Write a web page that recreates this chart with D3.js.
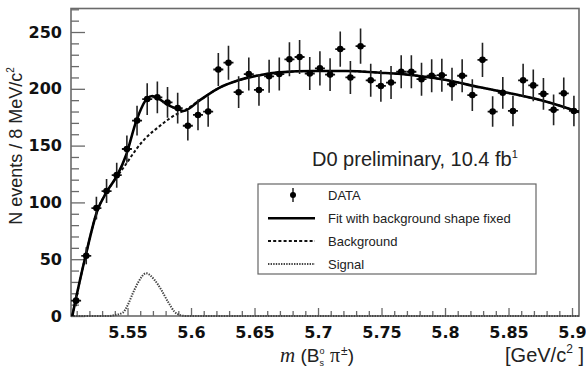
<!DOCTYPE html>
<html><head><meta charset="utf-8">
<script src="https://cdn.jsdelivr.net/npm/d3@7"></script>
<style>
html,body{margin:0;padding:0;background:#fff;}
svg{display:block;}
</style></head>
<body>
<svg id="chart" width="586" height="367"></svg>
<script>
// ---- data ----
const binCenters = [5.5095,5.5175,5.5255,5.5335,5.5415,5.5495,5.5575,5.5655,5.5735,5.5815,
  5.5895,5.5975,5.6055,5.6135,5.6215,5.6295,5.6375,5.6455,5.6535,5.6615,
  5.6695,5.6775,5.6855,5.6935,5.7015,5.7095,5.7175,5.7255,5.7335,5.7415,
  5.7495,5.7575,5.7655,5.7735,5.7815,5.7895,5.7975,5.8055,5.8135,5.8215,
  5.8295,5.8375,5.8455,5.8535,5.8615,5.8695,5.8775,5.8855,5.8935,5.9015];
const counts = [13.5,53,95,110,124,147,172,191,192.5,188,
  183,167.5,177,180,217,223,197,213,199,211,
  213,226,228,213.5,218,212.5,235,210,237.5,207.5,
  202.5,205.5,215,215,208.5,211.5,212,204,211.5,194.5,
  225.5,180,196.5,180.5,207.5,203,195.5,181.5,196,180.5];
const errors = [5,7.5,10,10.5,11,12,13,14,14,13.5,
  13.5,13,13.5,13.5,14.5,15,14,14.5,14,14.5,
  14.5,15,15,14.5,15,14.5,15.5,14.5,15.5,14.5,
  14,14.5,14.5,14.5,14.5,14.5,14.5,14.5,14.5,14,
  15,13.5,14,13.5,14.5,14,14,13.5,14,13.5];

const fitMass = [5.5065,5.508,5.517,5.526,5.534,5.542,5.549,5.557,5.5655,5.5695,5.574,5.582,5.590,5.594,5.607,5.6225,5.638,5.654,5.670,5.696,5.722,5.749,5.775,5.801,5.8275,5.854,5.880,5.9055];
const fitValues = [0,8,53,92,110,124,142,172,191.6,193.7,191.6,185.7,182,180.5,190,201,207.7,212,214.5,215.7,215.7,214.2,212,207.7,201.3,195.4,188.6,179.5];

const bgMass = [5.5065,5.508,5.517,5.526,5.534,5.542,5.549,5.557,5.5655,5.574,5.582,5.590,5.594,5.607,5.6225,5.638,5.654,5.670,5.696,5.722,5.749,5.775,5.801,5.8275,5.854,5.880,5.9055];
const bgValues = [0,8,53,92,110,123,134,147,158,166,173,178.5,180.5,190,201,207.7,212,214.5,215.7,215.7,214.2,212,207.7,201.3,195.4,188.6,179.5];

const sigMass = [5.5055,5.535,5.5384,5.5463,5.5502,5.5542,5.5581,5.5647,5.5713,5.5766,5.5818,5.5870,5.5923,5.596,5.9055];
const sigValues = [0,0,0.5,3,9.7,20,29,37.6,31.7,23,12.6,3.8,0.5,0,0];

const xTicks = [5.55,5.6,5.65,5.7,5.75,5.8,5.85,5.9];
const xTickLabels = ["5.55","5.6","5.65","5.7","5.75","5.8","5.85","5.9"];
const xMinorTicks = [5.51,5.52,5.53,5.54,5.56,5.57,5.58,5.59,5.61,5.62,5.63,5.64,5.66,5.67,5.68,5.69,5.71,5.72,5.73,5.74,5.76,5.77,5.78,5.79,5.81,5.82,5.83,5.84,5.86,5.87,5.88,5.89];
const yTicks = [0,50,100,150,200,250];
const yMinorTicks = [10,20,30,40,60,70,80,90,110,120,130,140,160,170,180,190,210,220,230,240,260,270];
const legendLabels = ["DATA","Fit with background shape fixed","Background","Signal"];

// ---- layout ----
const svg = d3.select("#chart");
const P = {left:71, top:8.5, right:579, bottom:316};
const x = d3.scaleLinear().domain([5.5055,5.9055]).range([P.left,P.right]);
const y = d3.scaleLinear().domain([0,270.7]).range([P.bottom,P.top]);

svg.append("rect").attr("width",586).attr("height",367).attr("fill","#fff");

svg.append("defs").append("clipPath").attr("id","clip")
  .append("rect").attr("x",P.left).attr("y",P.top-1)
  .attr("width",P.right-P.left).attr("height",P.bottom-P.top+2);

// axes
const axisColor = "#6a6a6a";
const yMinor = svg.append("g").attr("transform",`translate(${P.left},0)`)
  .call(d3.axisLeft(y).tickValues(yMinorTicks).tickSize(-8).tickFormat(""));
const yMajor = svg.append("g").attr("transform",`translate(${P.left},0)`)
  .call(d3.axisLeft(y).tickValues(yTicks).tickSize(-14).tickPadding(9).tickFormat(d3.format("d")));
const xMinor = svg.append("g").attr("transform",`translate(0,${P.bottom})`)
  .call(d3.axisBottom(x).tickValues(xMinorTicks).tickSize(-5).tickFormat(""));
const xMajor = svg.append("g").attr("transform",`translate(0,${P.bottom})`)
  .call(d3.axisBottom(x).tickValues(xTicks).tickSize(-8).tickPadding(10.5).tickFormat((d,i)=>xTickLabels[i]));
[yMinor,yMajor,xMinor,xMajor].forEach(g=>{
  g.select(".domain").remove();
  g.selectAll(".tick line").attr("stroke",axisColor).attr("stroke-width",1.3);
  g.selectAll(".tick text").attr("fill","#111")
    .style("font-family","'DejaVu Sans', sans-serif").style("font-weight","bold").style("font-size","16px");
});

// frame
svg.append("rect").attr("x",P.left).attr("y",P.top)
  .attr("width",P.right-P.left).attr("height",P.bottom-P.top)
  .attr("fill","none").attr("stroke",axisColor).attr("stroke-width",1.6);

const plot = svg.append("g").attr("clip-path","url(#clip)");

// curves
const line = d3.line().x(d=>x(d[0])).y(d=>y(d[1])).curve(d3.curveMonotoneX);
plot.append("path").datum(sigMass.map((m,i)=>[m,sigValues[i]]))
  .attr("d",line).attr("fill","none").attr("stroke","#444")
  .attr("stroke-width",2).attr("stroke-dasharray","1.4,1.2");
plot.append("path").datum(bgMass.map((m,i)=>[m,bgValues[i]]))
  .attr("d",line).attr("fill","none").attr("stroke","#111")
  .attr("stroke-width",2).attr("stroke-dasharray","3,2.2");
plot.append("path").datum(fitMass.map((m,i)=>[m,fitValues[i]]))
  .attr("d",line).attr("fill","none").attr("stroke","#000")
  .attr("stroke-width",2.6);

// data points
const pts = plot.append("g").selectAll("g").data(binCenters.map((m,i)=>({m,c:counts[i],e:errors[i]})))
  .join("g");
pts.append("line").attr("x1",d=>x(d.m)).attr("x2",d=>x(d.m))
  .attr("y1",d=>y(d.c-d.e)).attr("y2",d=>y(d.c+d.e))
  .attr("stroke","#222").attr("stroke-width",1.6);
pts.append("line").attr("x1",d=>x(d.m)-5).attr("x2",d=>x(d.m)+5)
  .attr("y1",d=>y(d.c)).attr("y2",d=>y(d.c))
  .attr("stroke","#111").attr("stroke-width",1.8);
pts.append("circle").attr("cx",d=>x(d.m)).attr("cy",d=>y(d.c)).attr("r",3.3).attr("fill","#000");

// title text
const t = svg.append("text").attr("x",312).attr("y",166)
  .style("font-family","'Liberation Sans', Arial, sans-serif").style("font-size","20px").attr("fill","#222");
t.append("tspan").text("D0 preliminary, 10.4 fb");
t.append("tspan").attr("dy",-8).style("font-size","11px").text("1");

// legend
const lg = svg.append("g");
lg.append("rect").attr("x",258).attr("y",184).attr("width",278).attr("height",90)
  .attr("fill","#fff").attr("stroke","#666").attr("stroke-width",1.2);
const rows = [195,218.3,241,264];
lg.append("line").attr("x1",293).attr("x2",293).attr("y1",rows[0]-7).attr("y2",rows[0]+7).attr("stroke","#222").attr("stroke-width",1.5);
lg.append("circle").attr("cx",293).attr("cy",rows[0]).attr("r",3).attr("fill","#000");
lg.append("line").attr("x1",268).attr("x2",315).attr("y1",rows[1]).attr("y2",rows[1]).attr("stroke","#000").attr("stroke-width",2.6);
lg.append("line").attr("x1",268).attr("x2",315).attr("y1",rows[2]).attr("y2",rows[2]).attr("stroke","#111").attr("stroke-width",2).attr("stroke-dasharray","3,2.2");
lg.append("line").attr("x1",268).attr("x2",315).attr("y1",rows[3]).attr("y2",rows[3]).attr("stroke","#444").attr("stroke-width",2).attr("stroke-dasharray","1.4,1.2");
lg.selectAll("text.lab").data(legendLabels).join("text").attr("class","lab")
  .attr("x",328).attr("y",(d,i)=>rows[i]+4.6).text(d=>d)
  .style("font-family","'Liberation Sans', Arial, sans-serif").style("font-size","13px").attr("fill","#222");

// y label
const yl = svg.append("text").attr("transform","translate(22,146) rotate(-90)")
  .attr("text-anchor","middle")
  .style("font-family","'Liberation Sans', Arial, sans-serif").style("font-size","18px").attr("fill","#222");
yl.append("tspan").text("N events / 8 MeV/c");
yl.append("tspan").attr("dy",-8).style("font-size","10px").text("2");

// x label
const xl = svg.append("text").attr("x",280).attr("y",362)
  .style("font-family","'Liberation Sans', Arial, sans-serif").style("font-size","19px").attr("fill","#222");
xl.append("tspan").style("font-family","'Liberation Serif', serif").style("font-style","italic").style("font-size","21px").text("m");
xl.append("tspan").text(" (B");
xl.append("tspan").attr("dy",-8).style("font-size","9px").text("o");
xl.append("tspan").attr("dx",-5).attr("dy",12).style("font-size","9px").text("s");
xl.append("tspan").attr("dx",6).attr("dy",-4).style("font-family","'Liberation Serif', serif").style("font-size","20px").text("π");
xl.append("tspan").attr("dx",1).attr("dy",-7).style("font-size","12px").text("±");
xl.append("tspan").attr("dy",7).text(")");

const ul = svg.append("text").attr("x",584).attr("y",362).attr("text-anchor","end")
  .style("font-family","'Liberation Sans', Arial, sans-serif").style("font-size","20px").attr("fill","#222");
ul.append("tspan").text("[GeV/c");
ul.append("tspan").attr("dy",-9).style("font-size","12px").text("2");
ul.append("tspan").attr("dy",9).text(" ]");
</script>
</body></html>
